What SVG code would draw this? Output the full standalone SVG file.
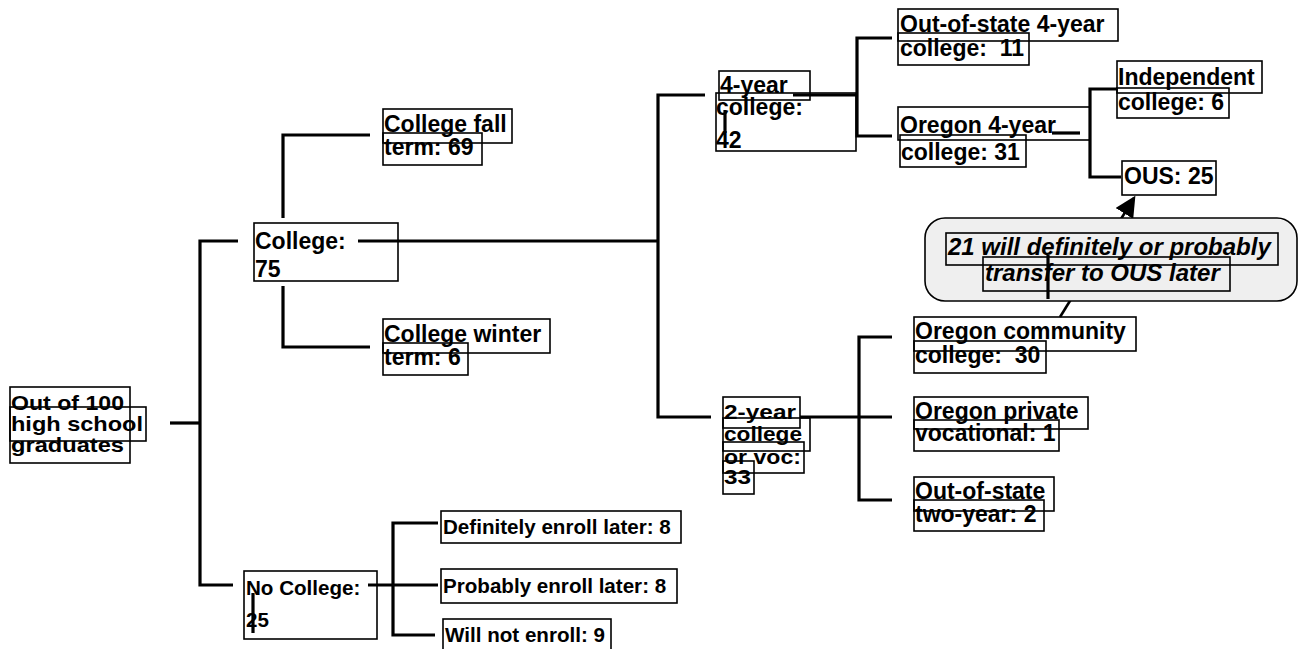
<svg xmlns="http://www.w3.org/2000/svg" width="1298" height="649" viewBox="0 0 1298 649">
<style>
.b{fill:none;stroke:#000;stroke-width:1.6}
.t{font-family:"Liberation Sans",Arial,sans-serif;font-weight:bold;font-size:23px;fill:#000}
.s{font-size:20.6px}
.n{font-size:21px}
.i{font-style:italic;font-size:24px}
.c{fill:none;stroke:#000;stroke-width:3.2}
</style>
<defs>
<marker id="ah" markerWidth="8" markerHeight="8" refX="7" refY="4" orient="auto" markerUnits="strokeWidth">
<path d="M0,0 L8,4 L0,8 z" fill="#000"/>
</marker>
</defs>
<rect width="1298" height="649" fill="#fff"/>
<g id="connectors">
<path class="c" d="M170,423 H200"/>
<path class="c" d="M238,241 H200 V585 H233"/>
<path class="c" d="M370,135 H283 V218"/>
<path class="c" d="M283,286 V347 H370"/>
<path class="c" d="M358,241 H658"/>
<path class="c" d="M705,95 H658 V417 H711"/>
<path class="c" d="M793,95 H857"/>
<path class="c" d="M892,38 H857 V136 H892"/>
<path class="c" d="M725,110 V133"/>
<path class="c" d="M1052,133 H1080"/>
<path class="c" d="M1117,89 H1090 V177 H1121"/>
<path class="c" d="M800,417 H892"/>
<path class="c" d="M892,337 H859 V500 H892"/>
<path class="c" d="M368,585 H438"/>
<path class="c" d="M438,523 H393 V635 H435"/>
<path class="c" d="M253,593 V633"/>
<path fill="none" stroke="#000" stroke-width="2.6" d="M1060,317 L1134,198" marker-end="url(#ah)"/>
</g>
<g id="n-root">
<rect class="b" x="10" y="387" width="120" height="76"/>
<rect class="b" x="10" y="407" width="136" height="34"/>
<text class="t n" x="11" y="410" textLength="113" lengthAdjust="spacingAndGlyphs">Out of 100</text>
<text class="t n" x="11" y="431" textLength="132" lengthAdjust="spacingAndGlyphs">high school</text>
<text class="t n" x="11" y="452" textLength="113" lengthAdjust="spacingAndGlyphs">graduates</text>
</g>
<g id="n-college">
<rect class="b" x="254" y="223" width="144" height="58"/>
<text class="t" x="255" y="249">College:</text>
<text class="t" x="255" y="277">75</text>
</g>
<g id="n-fall">
<rect class="b" x="383" y="109" width="129" height="34"/>
<rect class="b" x="383" y="133" width="99" height="32"/>
<text class="t" x="384" y="132">College fall</text>
<text class="t" x="384" y="155">term: 69</text>
</g>
<g id="n-winter">
<rect class="b" x="383" y="319" width="167" height="34"/>
<rect class="b" x="383" y="343" width="85" height="32"/>
<text class="t" x="384" y="342">College winter</text>
<text class="t" x="384" y="365">term: 6</text>
</g>
<g id="n-4yr">
<rect class="b" x="719" y="71" width="91" height="29"/>
<rect class="b" x="716" y="93" width="140" height="58"/>
<text class="t" x="720" y="93">4-year</text>
<text class="t" x="716" y="115">college:</text>
<text class="t" x="716" y="148">42</text>
</g>
<g id="n-oos4">
<rect class="b" x="898" y="9" width="220" height="32"/>
<rect class="b" x="898" y="33" width="131" height="32"/>
<text class="t" x="900" y="32">Out-of-state 4-year</text>
<text class="t" x="900" y="56">college:&#160; 11</text>
</g>
<g id="n-or4">
<rect class="b" x="898" y="107" width="192" height="33"/>
<rect class="b" x="900" y="135" width="126" height="32"/>
<text class="t" x="900" y="133">Oregon 4-year</text>
<text class="t" x="901" y="160">college: 31</text>
</g>
<g id="n-indep">
<rect class="b" x="1117" y="61" width="145" height="32"/>
<rect class="b" x="1117" y="88" width="112" height="30"/>
<text class="t" x="1118" y="85">Independent</text>
<text class="t" x="1118" y="110">college: 6</text>
</g>
<g id="n-ous">
<rect class="b" x="1122" y="161" width="94" height="34"/>
<text class="t" x="1124" y="184">OUS: 25</text>
</g>
<g id="n-callout">
<rect x="925" y="218" width="372" height="83" rx="20" ry="20" fill="#efefef" stroke="#000" stroke-width="1.6"/>
<rect class="b" x="946" y="233" width="332" height="32"/>
<rect class="b" x="983" y="257" width="247" height="34"/>
<text class="t i" x="948" y="255">21 will definitely or probably</text>
<text class="t i" x="985" y="281">transfer to OUS later</text>
<path class="c" d="M1048,255 V299"/>
</g>
<g id="n-2yr">
<rect class="b" x="723" y="397" width="77" height="31"/>
<rect class="b" x="723" y="418" width="87" height="33"/>
<rect class="b" x="723" y="442" width="81" height="31"/>
<rect class="b" x="723" y="461" width="31" height="33"/>
<text class="t n" x="724" y="419" textLength="72" lengthAdjust="spacingAndGlyphs">2-year</text>
<text class="t n" x="724" y="441" textLength="78" lengthAdjust="spacingAndGlyphs">college</text>
<text class="t n" x="724" y="464" textLength="77" lengthAdjust="spacingAndGlyphs">or voc:</text>
<text class="t n" x="724" y="484" textLength="27" lengthAdjust="spacingAndGlyphs">33</text>
</g>
<g id="n-orcc">
<rect class="b" x="914" y="317" width="222" height="34"/>
<rect class="b" x="914" y="341" width="132" height="32"/>
<text class="t" x="915" y="339">Oregon community</text>
<text class="t" x="915" y="363">college:&#160; 30</text>
</g>
<g id="n-orpv">
<rect class="b" x="914" y="397" width="174" height="32"/>
<rect class="b" x="914" y="420" width="145" height="31"/>
<text class="t" x="915" y="419">Oregon private</text>
<text class="t" x="915" y="441">vocational: 1</text>
</g>
<g id="n-oos2">
<rect class="b" x="914" y="477" width="140" height="34"/>
<rect class="b" x="914" y="500" width="130" height="31"/>
<text class="t" x="915" y="499">Out-of-state</text>
<text class="t" x="915" y="522">two-year: 2</text>
</g>
<g id="n-nocol">
<rect class="b" x="244" y="571" width="133" height="68"/>
<text class="t s" x="246" y="595">No College:</text>
<text class="t s" x="246" y="627">25</text>
</g>
<g id="n-def">
<rect class="b" x="441" y="511" width="240" height="32"/>
<text class="t s" x="443" y="534">Definitely enroll later: 8</text>
</g>
<g id="n-prob">
<rect class="b" x="441" y="569" width="236" height="34"/>
<text class="t s" x="443" y="593">Probably enroll later: 8</text>
</g>
<g id="n-not">
<rect class="b" x="443" y="619" width="168" height="34"/>
<text class="t s" x="445" y="642">Will not enroll: 9</text>
</g>
</svg>
